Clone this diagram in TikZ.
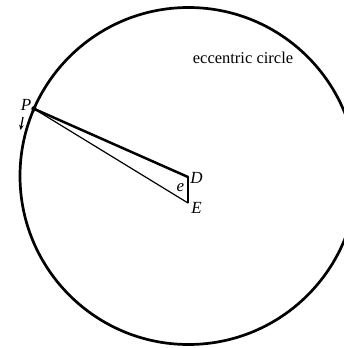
\documentclass[tikz,border=0pt]{standalone}
\usepackage{fontspec}
\setmainfont{Liberation Serif}
\usetikzlibrary{arrows.meta,calc}
\begin{document}
\begin{tikzpicture}[x=1pt,y=-1pt,
  lbl/.style={font=\fontsize{17}{19}\selectfont\itshape, inner sep=0pt},
  txt/.style={font=\fontsize{16.5}{19}\selectfont, inner sep=0pt},
  thickline/.style={line width=2.5pt, line cap=round, line join=round},
  thinline/.style={line width=1.2pt, line cap=round},
  midline/.style={line width=1.6pt},
  rim/.style={line width=2.7pt}]
\useasboundingbox (0,0) rectangle (344,348);
\fill[white] (0,0) rectangle (344,348);
\coordinate (C) at (188.5,176);
\draw[rim] (C) circle[radius=168.5];
\coordinate (P) at ($(C)+(-156.5:168.5)$);
\coordinate (D) at (188,177);
\coordinate (E) at (188,203);
\draw[thickline] (P) -- (D);
\draw[thinline] (P) -- (E);
\draw[midline] (D) -- (E);
\fill (P) circle[radius=2.7pt];
\node[lbl] (Pl) at (26,105) {P};
\node[lbl] (Dl) at (196.5,178) {D};
\node[lbl] (El) at (196.5,208) {E};
\node[lbl] (el) at (180.5,188) {e};
\node[txt] (ec) at (243,58) {eccentric circle};
\coordinate (a1) at (23,117);
\coordinate (a2) at (20.5,130);
\draw[line width=1.3pt, -{Stealth[length=5pt,width=4.5pt]}] (a1) -- (a2);
\end{tikzpicture}
\end{document}
